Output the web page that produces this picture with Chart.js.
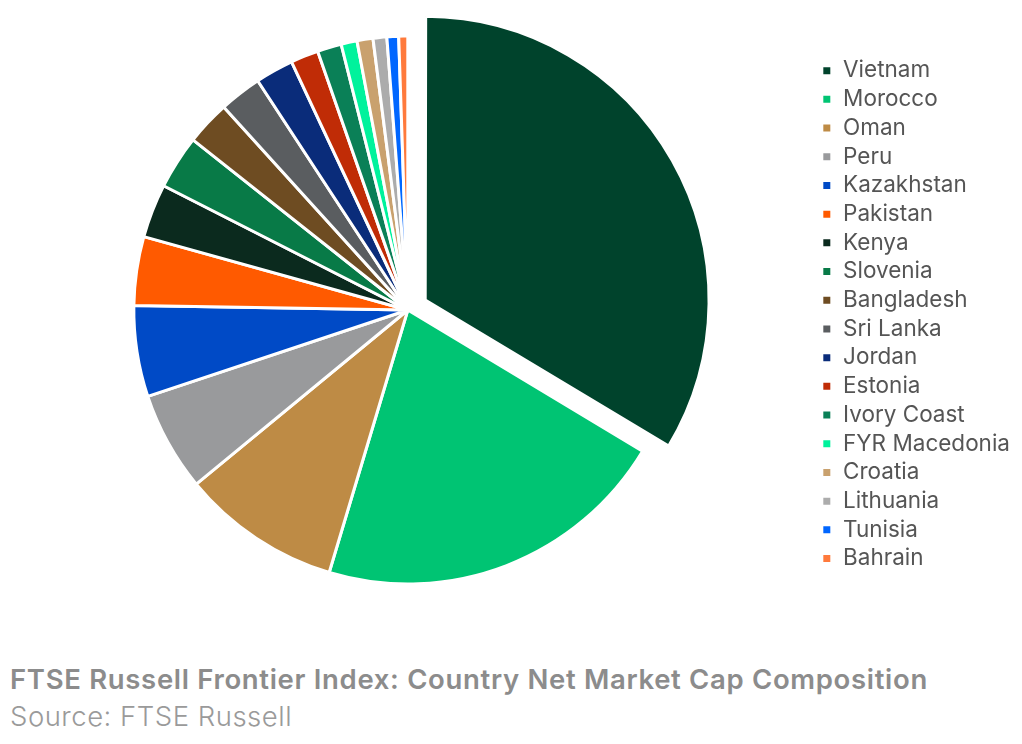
<!DOCTYPE html>
<html>
<head>
<meta charset="utf-8">
<script src="https://cdn.jsdelivr.net/npm/chart.js@4"></script>
<style>
  body { margin: 0; background: #fff; font-family: Inter, sans-serif; }
  #wrap { position: relative; width: 1022px; height: 620px; }
  .title { position: absolute; left: 10px; top: 662px; font-size: 27.5px; font-weight: 600; color: #8c8c8c; letter-spacing: 0.68px; white-space: nowrap; }
  .source { position: absolute; left: 10px; top: 699px; font-size: 27.5px; font-weight: 300; color: #9a9a9a; letter-spacing: 0.5px; white-space: nowrap; }
</style>
</head>
<body>
<div id="wrap"><canvas id="chPie"></canvas></div>
<div class="title">FTSE Russell Frontier Index: Country Net Market Cap Composition</div>
<div class="source">Source: FTSE Russell</div>
<script>
var countries = ['Vietnam', 'Morocco', 'Oman', 'Peru', 'Kazakhstan', 'Pakistan', 'Kenya', 'Slovenia',
    'Bangladesh', 'Sri Lanka', 'Jordan', 'Estonia', 'Ivory Coast', 'FYR Macedonia', 'Croatia',
    'Lithuania', 'Tunisia', 'Bahrain'];
var weights = [33.6, 21.0, 9.4, 5.85, 5.36, 4.06, 3.17, 3.17, 2.61, 2.5, 2.25, 1.64, 1.42, 0.94, 0.94, 0.81, 0.69, 0.53];
var colors = ['#00432c', '#00c473', '#be8b45', '#999a9c', '#004ac6', '#ff5a00', '#0b2a1e', '#087a47',
    '#6e4c22', '#5a5d60', '#0a2c7a', '#c02c06', '#0a8057', '#00f29c', '#c9a16e', '#acacac',
    '#0066ff', '#ff7a3c'];
// only Vietnam is pulled out
var offsets = [80, 0, 0, 0, 0, 0, 0, 0, 0, 0, 0, 0, 0, 0, 0, 0, 0, 0];

// the pulled-out slice is drawn a little larger than the rest
var bigSlice = {
    id: 'bigSlice',
    afterDatasetsUpdate: function (chart) {
        var arc = chart.getDatasetMeta(0).data[0];
        if (arc) arc.outerRadius = arc.outerRadius + 7;
    }
};

var chPie = document.getElementById('chPie');
new Chart(chPie, {
    type: 'pie',
    data: {
        labels: countries,
        datasets: [{
            data: weights,
            backgroundColor: colors,
            borderColor: '#ffffff',
            borderWidth: 3,
            offset: offsets
        }]
    },
    options: {
        responsive: true,
        maintainAspectRatio: false,
        animation: false,
        radius: 274,
        layout: { padding: { top: 0, bottom: 0, left: 0, right: 2 } },
        plugins: {
            tooltip: { enabled: false },
            legend: {
                position: 'right',
                title: { display: true, text: ' ', font: { size: 1 }, padding: 4 },
                labels: {
                    boxWidth: 10,
                    boxHeight: 10,
                    padding: 6.2,
                    color: '#555555',
                    font: { family: 'Inter', size: 22.5 }
                }
            }
        }
    },
    plugins: [bigSlice]
});
</script>
</body>
</html>
